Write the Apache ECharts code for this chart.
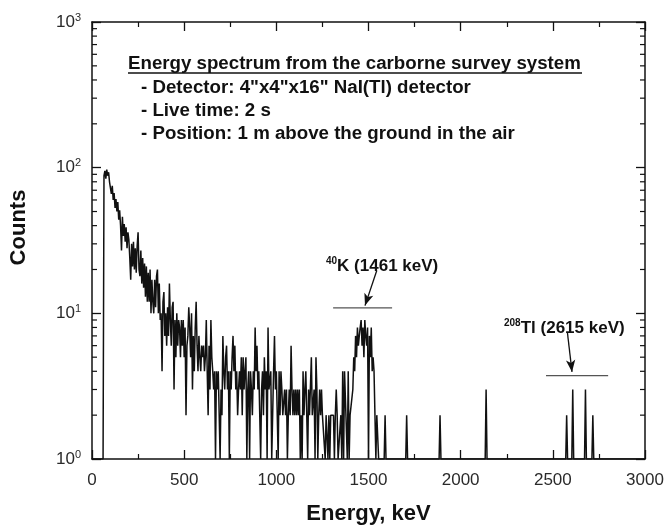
<!DOCTYPE html>
<html>
<head>
<meta charset="utf-8">
<script src="https://cdn.jsdelivr.net/npm/echarts@6/dist/echarts.min.js"></script>
<style>
  html, body { margin: 0; padding: 0; background: #fff; }
  #chart { width: 667px; height: 530px; }
</style>
</head>
<body>
<div id="chart"></div>
<script>
// Gamma-ray spectrum, carborne survey (NaI(Tl) detector, 2 s live time)

// Low-energy part of the spectrum: counts per 5 keV channel, 0 - 1595 keV
const CHANNEL_KEV = 5;
const lowCounts = [
  // 0 - 95 keV
  1, 1, 1, 1, 1, 1, 1, 1, 1, 1, 1, 1, 1, 88, 95, 84, 97, 88, 93, 80,
  // 100 - 195
  82, 66, 75, 60, 67, 53, 61, 50, 58, 44, 51, 40, 27, 46, 34, 41, 31, 39, 28, 36,
  // 200 - 295
  32, 24, 17, 30, 21, 31, 20, 28, 19, 29, 36, 20, 18, 27, 16, 24, 15, 22, 13, 21,
  // 300 - 395
  12, 19, 12, 20, 10, 17, 12, 10, 17, 11, 18, 20, 10, 16, 9, 10, 4, 12, 14, 7,
  // 400 - 495
  10, 6, 11, 7, 16, 9, 6, 11, 12, 3, 9, 5, 10, 6, 9, 8, 5, 9, 6, 9,
  // 500 - 595
  5, 8, 2, 6, 7, 11, 8, 5, 10, 3, 7, 4, 8, 12, 6, 4, 7, 5, 4, 6,
  // 600 - 695
  5, 6, 4, 5, 9, 4, 2, 6, 3, 9, 5, 4, 3, 4, 1, 4, 3, 4, 4, 1,
  // 700 - 795
  3, 2, 7, 4, 3, 5, 6, 3, 4, 1, 4, 3, 5, 7, 4, 6, 3, 4, 2, 3,
  // 800 - 895
  4, 3, 5, 2, 5, 3, 4, 5, 1, 3, 4, 1, 4, 3, 2, 4, 3, 8, 4, 6,
  // 900 - 995
  3, 4, 2, 1, 3, 4, 2, 5, 3, 4, 1, 8, 3, 3, 4, 1, 2, 4, 7, 3,
  // 1000 - 1095
  4, 2, 1, 4, 2, 4, 3, 2, 2, 3, 2, 3, 1, 2, 3, 2, 6, 3, 2, 3,
  // 1100 - 1195
  2, 3, 2, 3, 2, 3, 1, 2, 1, 4, 2, 3, 4, 2, 1, 3, 2, 2, 5, 2,
  // 1200 - 1295
  2, 3, 1, 5, 3, 1, 2, 3, 2, 3, 2, 2, 2, 1, 2, 2, 1, 2, 1, 2,
  // 1300 - 1395
  2, 2, 2, 1, 2, 3, 2, 1, 1, 1, 2, 1, 4, 1, 4, 4, 4, 1, 4, 1,
  // 1400 - 1495  (40K photopeak)
  2, 2, 2, 3, 5, 4, 7, 5, 8, 6, 7, 8, 9, 6, 8, 5, 9, 7, 6, 8,
  // 1500 - 1595
  1, 7, 5, 8, 4, 5, 4, 4, 1, 2, 2, 1, 1, 1, 1, 1, 1, 1, 2, 1
];

// High-energy part: sparse single counts (energy in keV, counts)
const tailEnergy = [1600, 1702, 1707, 1712, 1883, 1888, 1893, 2133, 2138, 2143,
                    2570, 2575, 2580, 2603, 2608, 2613, 2672, 2677, 2682, 2712, 2717, 2722, 3000];
const tailCounts = [1, 1, 2, 1, 1, 2, 1, 1, 3, 1,
                    1, 2, 1, 1, 3, 1, 1, 3, 1, 1, 2, 1, 1];

// Axis settings
const X_MIN = 0, X_MAX = 3000, X_STEP = 500;
const Y_MIN = 1, Y_MAX = 1000;
const yMinorTicks = [2, 3, 4, 5, 6, 7, 8, 9, 20, 30, 40, 50, 60, 70, 80, 90,
                     200, 300, 400, 500, 600, 700, 800, 900];

// Peak markers: horizontal bars and arrows [energy keV, counts]
const kBar = [[1308, 10.9], [1628, 10.9]];
const kArrow = [[1545, 19.7], [1481, 11.3]];
const tlBar = [[2463, 3.74], [2800, 3.74]];
const tlArrow = [[2579, 7.4], [2604, 3.96]];

// Header text
const headerTitle = 'Energy spectrum from the carborne survey system';
const headerLines = [
  '- Detector: 4"x4"x16" NaI(Tl) detector',
  '- Live time: 2 s',
  '- Position: 1 m above the ground in the air'
];

const FONT = '"Liberation Sans", Arial, Helvetica, sans-serif';
const INK = '#111';
const LABEL_INK = '#2a2a2a';

const spectrum = lowCounts.map((c, i) => [i * CHANNEL_KEV, c])
  .concat(tailEnergy.map((e, i) => [e, tailCounts[i]]));

const chart = echarts.init(document.getElementById('chart'), null, { renderer: 'canvas' });

const xAxisCommon = {
  type: 'value', min: X_MIN, max: X_MAX, interval: X_STEP,
  axisLine: { show: true, onZero: false, lineStyle: { color: INK, width: 1.5 } },
  axisTick: { show: true, inside: true, length: 9, lineStyle: { color: INK, width: 1.3 } },
  minorTick: { show: true, splitNumber: 2, length: 5, lineStyle: { color: INK, width: 1.2 } },
  splitLine: { show: false }, minorSplitLine: { show: false }
};

const yAxisCommon = {
  type: 'log', logBase: 10, min: Y_MIN, max: Y_MAX,
  axisLine: { show: true, onZero: false, lineStyle: { color: INK, width: 1.5 } },
  axisTick: { show: true, inside: true, length: 9, lineStyle: { color: INK, width: 1.3 } },
  splitLine: { show: false }
};

const headerGraphics = [
  {
    type: 'text', left: 128, top: 54, silent: true,
    style: { text: headerTitle, font: 'bold 18.7px ' + FONT, fill: INK }
  },
  {
    type: 'line', silent: true,
    shape: { x1: 128, y1: 73, x2: 582, y2: 73 },
    style: { stroke: INK, lineWidth: 1.4 }
  }
].concat(headerLines.map((t, i) => ({
  type: 'text', left: 141, top: 78 + i * 23, silent: true,
  style: { text: t, font: 'bold 18.7px ' + FONT, fill: INK }
})));

const supRich = {
  s: { fontSize: 10, fontWeight: 'bold', fontFamily: FONT, fill: INK, verticalAlign: 'top', lineHeight: 10 },
  n: { fontSize: 17, fontWeight: 'bold', fontFamily: FONT, fill: INK, lineHeight: 20 }
};

const peakLabels = [
  {
    type: 'text', left: 326, top: 256, silent: true,
    style: { text: '{s|40}{n|K (1461 keV)}', rich: supRich }
  },
  {
    type: 'text', left: 504, top: 318, silent: true,
    style: { text: '{s|208}{n|Tl (2615 keV)}', rich: supRich }
  }
];

const arrowMarkLine = (arrow) => ({
  silent: true, animation: false,
  symbol: ['none', 'arrow'], symbolSize: [7, 12],
  label: { show: false },
  lineStyle: { color: INK, width: 1.3, type: 'solid' },
  data: [[{ coord: arrow[0] }, { coord: arrow[1] }]]
});

chart.setOption({
  animation: false,
  backgroundColor: '#fff',
  textStyle: { fontFamily: FONT },
  grid: { left: 92, right: 22, top: 22, bottom: 63, containLabel: false },
  xAxis: [
    Object.assign({}, xAxisCommon, {
      position: 'bottom',
      axisLabel: {
        show: true, margin: 13, fontSize: 17, color: LABEL_INK, fontFamily: FONT,
        formatter: (v) => String(v)
      },
      name: 'Energy, keV', nameLocation: 'middle', nameGap: 44,
      nameTextStyle: { fontSize: 22, fontWeight: 'bold', color: INK, fontFamily: FONT }
    }),
    Object.assign({}, xAxisCommon, { position: 'top', axisLabel: { show: false } })
  ],
  yAxis: [
    Object.assign({}, yAxisCommon, {
      position: 'left',
      axisLabel: {
        show: true, margin: 11, color: LABEL_INK,
        formatter: (v) => '{b|10}{e|' + Math.round(Math.log10(v)) + '}',
        rich: {
          b: { fontSize: 17, fontFamily: FONT, color: LABEL_INK, lineHeight: 20 },
          e: { fontSize: 11, fontFamily: FONT, color: LABEL_INK, verticalAlign: 'top', lineHeight: 12 }
        }
      },
      name: 'Counts', nameLocation: 'middle', nameGap: 62, nameRotate: 90,
      nameTextStyle: { fontSize: 22, fontWeight: 'bold', color: INK, fontFamily: FONT, padding: [0, 0, 0, 26] }
    }),
    Object.assign({}, yAxisCommon, { position: 'right', axisLabel: { show: false } })
  ],
  graphic: headerGraphics.concat(peakLabels),
  series: [
    {
      name: 'Spectrum', type: 'line', xAxisIndex: 0, yAxisIndex: 0,
      data: spectrum, showSymbol: false, symbol: 'none', sampling: null,
      lineStyle: { color: INK, width: 1.5 }, clip: true, z: 3
    },
    {
      name: 'Minor ticks', type: 'custom', xAxisIndex: 0, yAxisIndex: 0, silent: true, clip: false,
      data: yMinorTicks.map((v) => [X_MIN, v]),
      renderItem: (params, api) => {
        const v = api.value(1);
        const l = api.coord([X_MIN, v]);
        const r = api.coord([X_MAX, v]);
        const st = { stroke: INK, lineWidth: 1.2 };
        return {
          type: 'group',
          children: [
            { type: 'line', shape: { x1: l[0], y1: l[1], x2: l[0] + 5, y2: l[1] }, style: st },
            { type: 'line', shape: { x1: r[0] - 5, y1: r[1], x2: r[0], y2: r[1] }, style: st }
          ]
        };
      }
    },
    {
      name: '40K marker', type: 'line', data: kBar, showSymbol: false, symbol: 'none',
      lineStyle: { color: '#555', width: 1.3 }, silent: true, z: 4,
      markLine: arrowMarkLine(kArrow)
    },
    {
      name: '208Tl marker', type: 'line', data: tlBar, showSymbol: false, symbol: 'none',
      lineStyle: { color: '#555', width: 1.3 }, silent: true, z: 4,
      markLine: arrowMarkLine(tlArrow)
    }
  ]
});
</script>
</body>
</html>
